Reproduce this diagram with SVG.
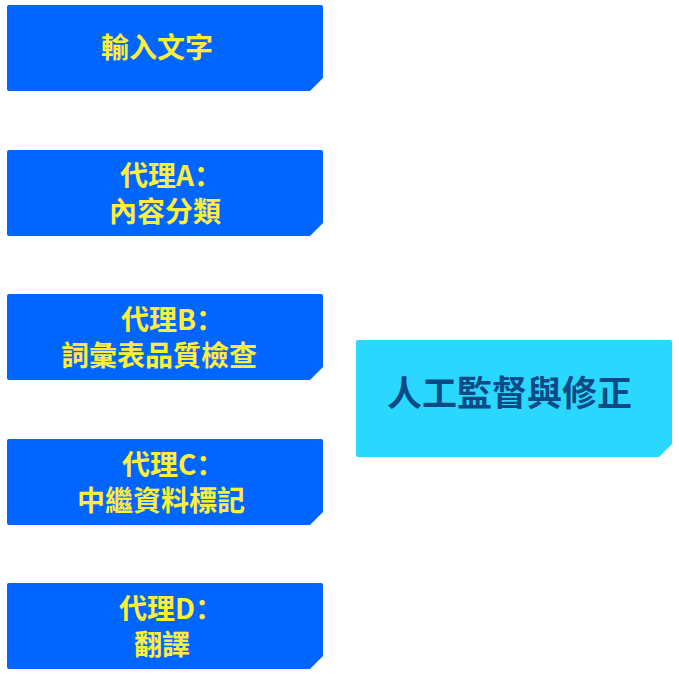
<svg xmlns="http://www.w3.org/2000/svg" width="679" height="676" viewBox="0 0 679 676">
  <defs>
    <style>
      .agent { fill: #0066FF; }
      .human { fill: #2AD8FF; }
      .lbl { font-family: "Noto Sans CJK SC", "Noto Sans CJK TC", sans-serif; font-weight: 700; font-size: 28px; fill: #FFEE3A; }
      .big { font-family: "Noto Sans CJK SC", "Noto Sans CJK TC", sans-serif; font-weight: 700; font-size: 35px; fill: #0B4A85; }
    </style>
    <path id="shapeL" d="M2,0 H314 Q316,0 316,2 V73 L303,86 H2 Q0,86 0,84 V2 Q0,0 2,0 Z"/>
  </defs>
  <rect width="679" height="676" fill="#FFFFFF"/>
  <g id="connectors"></g>
  <g id="node-input">
    <use href="#shapeL" class="agent" x="7" y="5"/>
    <text class="lbl" x="101" y="58">輸入文字</text>
  </g>
  <g id="node-agentA">
    <use href="#shapeL" class="agent" x="7" y="150"/>
    <text class="lbl"><tspan x="120" y="186">代理A：</tspan><tspan x="109" y="222">內容分類</tspan></text>
  </g>
  <g id="node-agentB">
    <use href="#shapeL" class="agent" x="7" y="294"/>
    <text class="lbl"><tspan x="121" y="330">代理B：</tspan><tspan x="61" y="366">詞彙表品質檢查</tspan></text>
  </g>
  <g id="node-agentC">
    <use href="#shapeL" class="agent" x="7" y="439"/>
    <text class="lbl"><tspan x="122" y="475">代理C：</tspan><tspan x="77" y="511">中繼資料標記</tspan></text>
  </g>
  <g id="node-agentD">
    <use href="#shapeL" class="agent" x="7" y="583"/>
    <text class="lbl"><tspan x="119" y="619">代理D：</tspan><tspan x="134" y="655">翻譯</tspan></text>
  </g>
  <g id="node-human">
    <path class="human" d="M358,340 H670 Q672,340 672,342 V444 L659,457 H358 Q356,457 356,455 V342 Q356,340 358,340 Z"/>
    <text class="big" x="387" y="406">人工監督與修正</text>
  </g>
</svg>
